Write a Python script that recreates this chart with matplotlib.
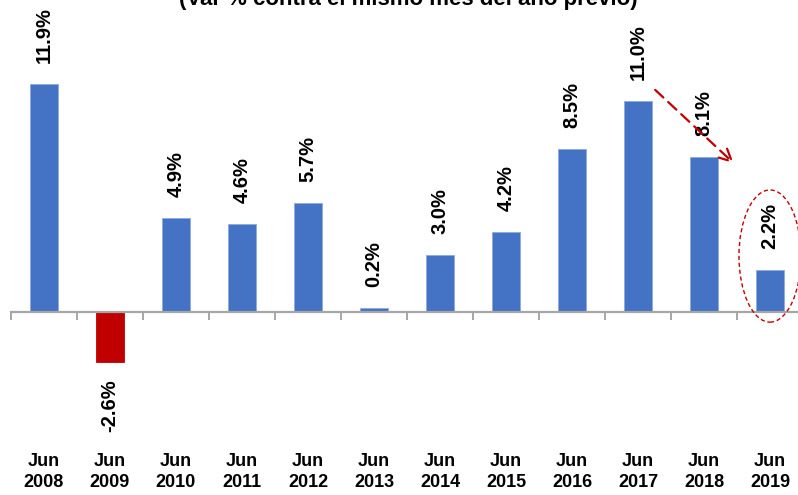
import matplotlib.pyplot as plt
from matplotlib.patches import Ellipse
import matplotlib.transforms as mtransforms

plt.rcParams['font.family'] = ['Liberation Sans', 'DejaVu Sans']

# Datos
meses = ['Jun\n2008', 'Jun\n2009', 'Jun\n2010', 'Jun\n2011', 'Jun\n2012', 'Jun\n2013',
         'Jun\n2014', 'Jun\n2015', 'Jun\n2016', 'Jun\n2017', 'Jun\n2018', 'Jun\n2019']
variacion = [11.9, -2.6, 4.9, 4.6, 5.7, 0.2, 3.0, 4.2, 8.5, 11.0, 8.1, 2.2]

AZUL = '#4472C4'
ROJO = '#C00000'

fig = plt.figure(figsize=(7.98, 4.95), dpi=100)
# el eje continúa más allá del borde derecho, como en el original
ax = fig.add_axes([11 / 798, 0, 792 / 798, 1])
ax.set_xlim(-0.5, 11.5)
ax.set_ylim(-183 / 19.16, 312 / 19.16)

x = list(range(len(variacion)))
colores = [ROJO if v < 0 else AZUL for v in variacion]
bordes = [ROJO if v < 0 else '#8FAADC' for v in variacion]
ax.bar(x, variacion, width=0.41, color=colores, edgecolor=bordes,
       linewidth=0.6, zorder=3)

# etiquetas de valores
for xi, v in zip(x, variacion):
    off = 15 if v >= 0 else -13
    ax.annotate(f'{v:.1f}%', (xi, v), xytext=(0, off), textcoords='offset points',
                rotation=90, ha='center', va='bottom' if v >= 0 else 'top',
                fontsize=14.5, fontweight='bold', zorder=4)

# eje horizontal en cero
for s in ['top', 'right', 'left']:
    ax.spines[s].set_visible(False)
ax.spines['bottom'].set_position(('data', 0))
ax.spines['bottom'].set_color('#A6A6A6')
ax.spines['bottom'].set_linewidth(1.6)
ax.spines['bottom'].set_zorder(5)
ax.set_xticks([i - 0.5 for i in range(len(variacion) + 1)])
ax.set_xticklabels([])
ax.tick_params(axis='x', direction='out', length=6, width=1.4, color='#A6A6A6')
ax.set_yticks([])

# categorías en la parte inferior
trans = mtransforms.blended_transform_factory(ax.transData, fig.transFigure)
for xi, m in zip(x, meses):
    ax.text(xi, 1 - 472 / 495, m, transform=trans, ha='center', va='center',
            fontsize=13, fontweight='bold', linespacing=1.35)

# título (cortado en la parte superior)
fig.text(0.512, 1 - 5 / 495, '(Var % contra el mismo mes del año previo)',
         ha='center', va='baseline', fontsize=16, fontweight='bold')

# flecha y elipse
ax.annotate('', xy=(10.48, 7.67), xytext=(9.23, 11.69),
            arrowprops=dict(arrowstyle='->', color=ROJO, lw=1.6,
                            linestyle=(0, (5, 3)), mutation_scale=22), zorder=6)
ax.add_patch(Ellipse((11.0, 2.92), 0.94, 6.9, fill=False, edgecolor=ROJO,
                     linestyle=(0, (3, 2)), linewidth=1.0, zorder=6))

fig.savefig('out.png', dpi=100)
